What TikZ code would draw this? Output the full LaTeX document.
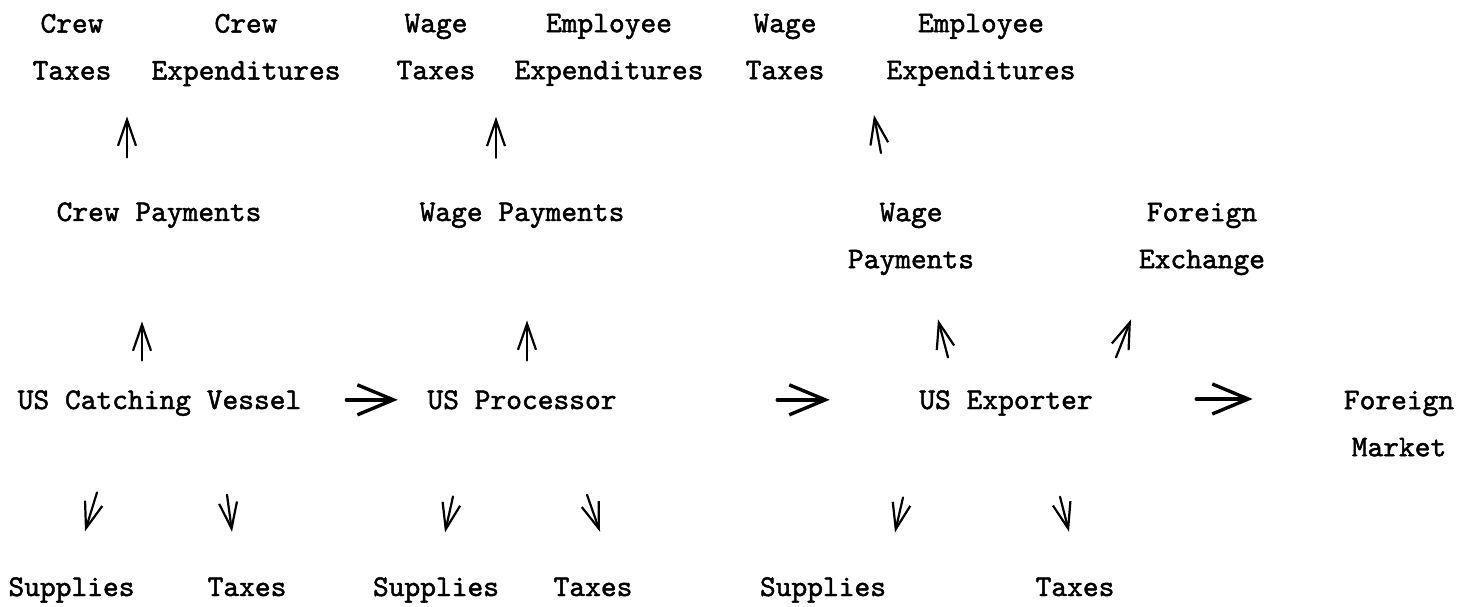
\documentclass[tikz,border=0pt]{standalone}
\usepackage{fontspec}
\usepackage{tikz}
\usetikzlibrary{arrows.meta}
\newfontfamily\typer{lmmono10-regular.otf}[FakeBold=1.6]
\tikzset{
  lab/.style={font=\fontsize{30}{47}\selectfont\typer, inner sep=0pt, align=center},
  flow/.style={draw=black, line width=2.2pt, line cap=round, -{Straight Barb[length=26pt,width=18pt]}},
  push/.style={draw=black, line width=3.4pt, line cap=round, -{Straight Barb[length=36pt,width=30pt]}},
}

\begin{document}
\begin{tikzpicture}[x=1pt,y=1pt]
  \fill[white] (0,0) rectangle (1473,606);
  \useasboundingbox (0,0) rectangle (1473,606);

  % where the payments end up
  \node[lab,anchor=north] (crewtax)  at (72,592.3)  {Crew\\Taxes};
  \node[lab,anchor=north] (crewexp)  at (246,592.3) {Crew\\Expenditures};
  \node[lab,anchor=north] (wagetax1) at (436,592.3) {Wage\\Taxes};
  \node[lab,anchor=north] (empexp1)  at (609,592.3) {Employee\\Expenditures};
  \node[lab,anchor=north] (wagetax2) at (785,592.3) {Wage\\Taxes};
  \node[lab,anchor=north] (empexp2)  at (981,592.3) {Employee\\Expenditures};

  % payments
  \node[lab,anchor=base]  (crewpay)  at (159,385)    {Crew Payments};
  \node[lab,anchor=base]  (wagepay1) at (522,385)    {Wage Payments};
  \node[lab,anchor=north] (wagepay2) at (911,403.3)  {Wage\\Payments};
  \node[lab,anchor=north] (forex)    at (1202,403.3) {Foreign\\Exchange};

  % firms along the chain
  \node[lab,anchor=base]  (vessel)    at (159.5,197)  {US Catching Vessel};
  \node[lab,anchor=base]  (processor) at (522,197)    {US Processor};
  \node[lab,anchor=base]  (exporter)  at (1006,197)   {US Exporter};
  \node[lab,anchor=north] (market)    at (1399,215.3) {Foreign\\Market};

  % costs
  \node[lab,anchor=base] (supply1) at (71.5,10) {Supplies};
  \node[lab,anchor=base] (tax1)    at (247,10)  {Taxes};
  \node[lab,anchor=base] (supply2) at (436,10)  {Supplies};
  \node[lab,anchor=base] (tax2)    at (593,10)  {Taxes};
  \node[lab,anchor=base] (supply3) at (823,10)  {Supplies};
  \node[lab,anchor=base] (tax3)    at (1075,10) {Taxes};

  % payments spent
  \draw[flow] ([xshift=-32pt,yshift=44.7pt]crewpay.north) -- ++(0,41);
  \draw[flow] ([xshift=-26pt,yshift=44.7pt]wagepay1.north) -- ++(0,41);
  \draw[flow] ([xshift=-30pt,yshift=49.7pt]wagepay2.north) -- ++(-7,38);

  % firms pay out
  \draw[flow] ([xshift=-17.5pt,yshift=29.7pt]vessel.north) -- ++(0,39);
  \draw[flow] ([xshift=5pt,yshift=29.7pt]processor.north) -- ++(0,40);
  \draw[flow] ([xshift=-58pt,yshift=32.7pt]exporter.north) -- ++(-10,38);
  \draw[flow] ([xshift=110pt,yshift=32.7pt]exporter.north) -- ++(15,38);

  % product flow
  \draw[push,shorten <=45pt,shorten >=29.5pt] (vessel.east |- processor.west) -- (processor.west);
  \draw[push,shorten <=160.5pt,shorten >=89.5pt] (processor.east) -- (processor.east -| exporter.west);
  \draw[push,shorten <=103.4pt,shorten >=91pt] ([yshift=4pt]exporter.east) -- ([yshift=4pt]exporter.east -| market.west);

  % costs paid
  \draw[flow] ([xshift=25.5pt,yshift=84.7pt]supply1.north) -- ++(-12,-39);
  \draw[flow] ([xshift=-20pt,yshift=82.7pt]tax1.north) -- ++(5,-37);
  \draw[flow] ([xshift=17pt,yshift=80.7pt]supply2.north) -- ++(-8,-36);
  \draw[flow] ([xshift=-6pt,yshift=82.7pt]tax2.north) -- ++(13,-37);
  \draw[flow] ([xshift=80pt,yshift=79.7pt]supply3.north) -- ++(-8,-35);
  \draw[flow] ([xshift=-15pt,yshift=80.7pt]tax3.north) -- ++(9,-35);
\end{tikzpicture}
\end{document}
